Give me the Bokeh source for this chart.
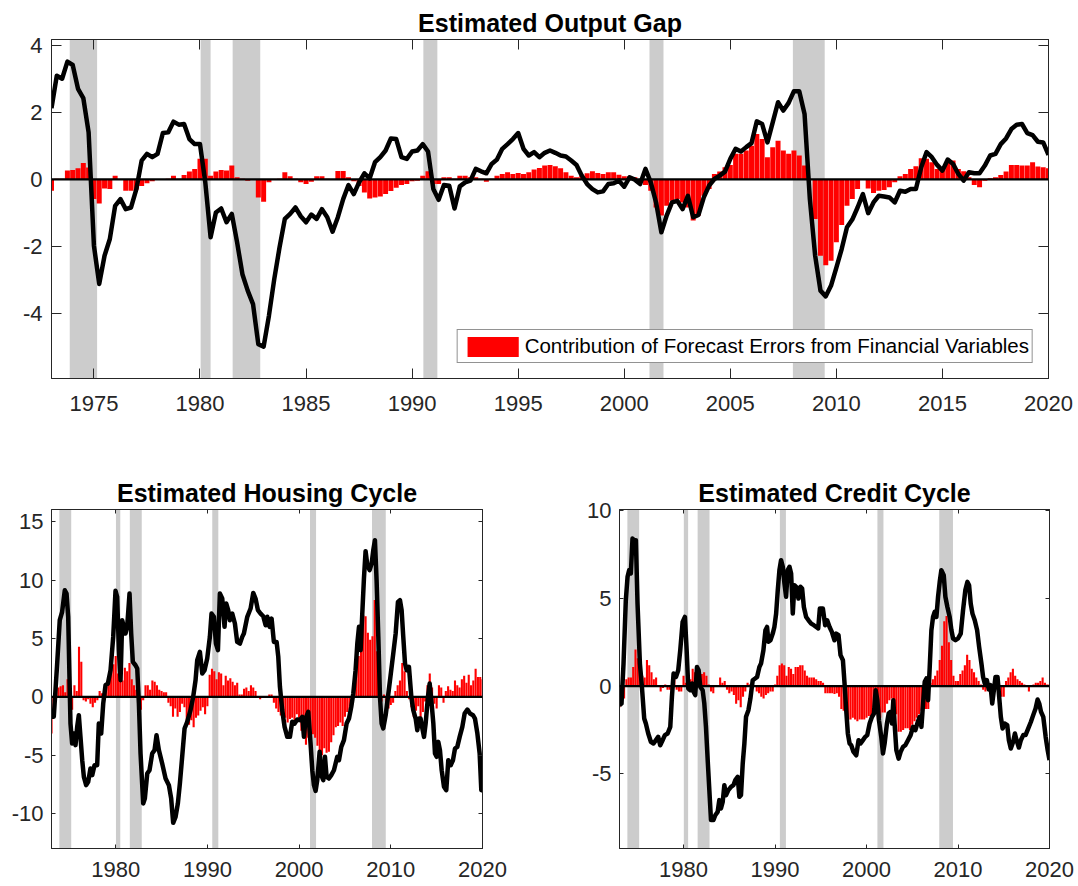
import numpy as np
from bokeh.plotting import figure
from bokeh.models import (Range1d, BoxAnnotation, Span, Legend, LegendItem,
                          LinearAxis, FixedTicker)
from bokeh.layouts import column, row
from bokeh.embed import file_html
from bokeh.resources import INLINE

FONT = "Liberation Sans"
TXT = "#262626"
RED = "#ff0000"
GRAY = "#cccccc"

# ---------------- data ----------------
recession_start = [1973.86, 1980.03, 1981.54, 1990.53, 2001.19, 2007.95]
recession_end = [1975.15, 1980.50, 1982.84, 1991.19, 2001.85, 2009.45]

# Output gap (quarterly from 1973Q1)
gap_line = [
    2.12, 3.09, 3.00, 3.51, 3.41, 2.70, 2.42, 1.40, -1.98, -3.12, -2.28, -1.78,
    -0.79, -0.59, -0.89, -0.84, -0.29, 0.56, 0.76, 0.66, 0.76, 1.38, 1.40, 1.72,
    1.63, 1.65, 1.20, 1.05, 1.05, -0.09, -1.73, -0.99, -0.87, -1.28, -1.03, -1.88,
    -2.83, -3.32, -3.72, -4.92, -4.99, -4.07, -2.98, -2.03, -1.18, -1.03, -0.84, -1.10,
    -1.28, -1.05, -1.18, -0.89, -1.13, -1.56, -1.13, -0.59, -0.17, -0.44, -0.09, 0.18,
    0.03, 0.51, 0.66, 0.86, 1.22, 1.20, 0.66, 0.61, 0.83, 0.86, 1.05, 0.83,
    -0.29, -0.61, -0.17, -0.19, -0.87, -0.21, -0.09, -0.04, 0.31, 0.24, 0.18, 0.46,
    0.59, 0.91, 1.05, 1.20, 1.38, 0.91, 0.71, 0.81, 0.66, 0.79, 0.86, 0.79,
    0.71, 0.68, 0.56, 0.43, 0.11, -0.14, -0.29, -0.39, -0.36, -0.14, -0.12, -0.04,
    -0.22, 0.06, -0.01, -0.14, 0.31, -0.09, -0.69, -1.58, -1.08, -0.69, -0.64, -0.89,
    -0.49, -1.13, -1.06, -0.54, -0.19, 0.01, 0.11, 0.23, 0.61, 0.91, 0.83, 0.96,
    1.08, 1.73, 1.65, 1.10, 1.70, 2.30, 2.05, 2.28, 2.63, 2.63, 1.95, -0.59,
    -2.28, -3.32, -3.49, -3.17, -2.63, -2.08, -1.43, -1.20, -0.84, -0.44, -1.01, -0.69,
    -0.49, -0.51, -0.54, -0.69, -0.34, -0.37, -0.29, -0.29, 0.36, 0.81, 0.66, 0.43,
    0.26, 0.59, 0.46, 0.16, -0.04, 0.21, 0.18, 0.18, 0.41, 0.71, 0.76, 1.05,
    1.22, 1.50, 1.63, 1.65, 1.38, 1.32, 1.12, 1.10, 0.73,
]
gap_bars = [
    -0.34, 0.02, 0.02, 0.26, 0.28, 0.33, 0.49, 0.35, -0.59, -0.72, -0.27, -0.29,
    0.11, 0.00, -0.34, -0.34, -0.30, -0.20, -0.12, -0.06, 0.00, 0.00, 0.02, 0.11,
    0.02, 0.13, 0.23, 0.31, 0.61, 0.61, 0.11, 0.23, 0.28, 0.26, 0.41, 0.06,
    0.02, -0.04, -0.02, -0.54, -0.67, -0.09, 0.00, 0.02, 0.21, 0.09, 0.02, -0.09,
    -0.14, -0.07, 0.09, 0.09, 0.02, 0.00, 0.25, 0.25, 0.06, -0.06, -0.20, -0.39,
    -0.57, -0.54, -0.51, -0.44, -0.35, -0.25, -0.17, -0.14, -0.06, -0.04, 0.11, 0.24,
    -0.14, -0.14, 0.06, 0.06, 0.02, 0.11, 0.11, 0.06, 0.06, 0.02, -0.07, 0.02,
    0.11, 0.16, 0.21, 0.16, 0.19, 0.16, 0.21, 0.29, 0.34, 0.41, 0.43, 0.39,
    0.33, 0.21, 0.11, 0.06, 0.11, 0.18, 0.24, 0.19, 0.16, 0.21, 0.21, 0.14,
    0.09, 0.09, 0.06, 0.00, -0.17, -0.34, -0.84, -1.08, -0.79, -0.64, -0.59, -0.69,
    -0.84, -1.23, -1.08, -0.49, -0.29, 0.16, 0.23, 0.36, 0.43, 0.76, 0.76, 0.86,
    1.00, 1.35, 1.20, 0.66, 0.96, 1.15, 0.86, 0.76, 0.86, 0.71, 0.41, 0.00,
    -1.18, -2.28, -2.56, -2.43, -1.88, -1.36, -0.79, -0.59, -0.29, 0.00, -0.27, -0.41,
    -0.34, -0.32, -0.24, -0.09, 0.09, 0.16, 0.31, 0.39, 0.63, 0.61, 0.51, 0.31,
    0.29, 0.49, 0.56, 0.31, 0.24, 0.06, -0.17, -0.24, -0.04, 0.03, 0.06, 0.13,
    0.23, 0.43, 0.43, 0.41, 0.41, 0.51, 0.38, 0.36, 0.33,
]

# Housing cycle
housing_bars = [
    -3.14, -0.4, 0.6, 0.8, 0.9, 1.0, 0.4, 1.5, 0.0, -1.1, 1.0, 0.5,
    4.3, 3.0, -0.3, -0.4, -0.2, -0.6, -0.9, -0.5, -0.3, 0.5, 0.3, 0.6,
    1.0, 1.2, 2.0, 2.8, 3.5, 2.0, 1.5, 1.4, 2.5, 2.2, 2.9, 1.5,
    1.0, 0.6, -0.3, -1.1, -0.3, 1.0, 1.0, 0.6, 1.4, 1.3, 1.0, 0.6,
    0.5, 0.4, 0.4, -0.5, -0.8, -1.7, -1.0, -1.7, -1.3, -0.6, -0.9, -2.3,
    -2.4, -2.0, -2.6, -1.8, -1.6, -1.2, -0.9, -1.5, -0.8, 1.9, 2.4, 2.2,
    1.5, 2.1, 2.0, 1.0, 1.8, 1.4, 1.6, 1.3, 1.0, 1.2, 0.2, 0.2,
    0.7, 0.8, 0.5, 1.0, 0.8, 0.5, -0.1, -0.2, 0.0, -0.1, 0.0, 0.2,
    0.2, -0.5, -1.0, -1.3, -1.6, -2.4, -1.8, -2.2, -1.9, -1.8, -2.0, -1.5,
    -2.0, -2.9, -3.0, -4.1, -3.5, -3.0, -3.2, -3.5, -4.2, -4.7, -5.0, -4.4,
    -4.8, -4.7, -3.9, -3.3, -2.6, -2.5, -2.2, -2.5, -1.7, -1.3, -1.1, -0.6,
    1.0, 3.4, 3.5, 5.0, 7.0, 6.9, 5.5, 4.9, 5.2, 8.3, 3.9, 0.5,
    -0.4, 0.2, -0.8, -1.0, -0.7, -0.5, 0.5, 1.0, 1.4, 2.9, 2.2, 0.5,
    -0.2, -0.9, -1.7, -1.2, -0.8, -1.8, -1.3, -0.4, 1.0, 2.0, 0.8, -0.6,
    -1.0, 1.0, 0.8, -0.5, 0.5, 0.9, 0.6, 0.5, 1.4, 1.0, 0.8, 1.5,
    1.8, 1.2, 1.9, 1.0, 1.4, 2.4, 1.7, 1.7, 1.5,
]
housing_x = [
    1973.00, 1973.25, 1973.62, 1973.90, 1974.16, 1974.45, 1974.64, 1974.82, 1974.96, 1975.07,
    1975.25, 1975.44, 1975.62, 1975.80, 1975.98, 1976.16, 1976.35, 1976.53, 1976.78, 1977.00,
    1977.25, 1977.44, 1977.69, 1977.98, 1978.16, 1978.42, 1978.64, 1978.89, 1979.15, 1979.44,
    1979.73, 1979.98, 1980.16, 1980.35, 1980.53, 1980.71, 1980.89, 1981.07, 1981.25, 1981.51,
    1981.69, 1981.87, 1982.16, 1982.35, 1982.53, 1982.71, 1983.00, 1983.18, 1983.44, 1983.69,
    1983.98, 1984.24, 1984.45, 1984.71, 1985.07, 1985.44, 1985.80, 1986.05, 1986.27, 1986.53,
    1986.78, 1987.00, 1987.25, 1987.51, 1987.80, 1988.16, 1988.45, 1988.71, 1988.89, 1989.18,
    1989.44, 1989.69, 1989.98, 1990.27, 1990.45, 1990.71, 1990.93, 1991.15, 1991.36, 1991.62,
    1991.87, 1992.05, 1992.27, 1992.45, 1992.71, 1993.00, 1993.25, 1993.55, 1993.80, 1993.98,
    1994.35, 1994.71, 1995.00, 1995.25, 1995.51, 1995.80, 1996.09, 1996.35, 1996.53, 1996.78,
    1997.00, 1997.25, 1997.55, 1997.73, 1997.91, 1998.16, 1998.42, 1998.71, 1999.00, 1999.25,
    1999.51, 1999.80, 2000.09, 2000.35, 2000.53, 2000.71, 2001.00, 2001.25, 2001.44, 2001.62,
    2001.80, 2001.98, 2002.24, 2002.42, 2002.64, 2002.82, 2003.00, 2003.25, 2003.51, 2003.80,
    2003.98, 2004.16, 2004.35, 2004.60, 2004.89, 2005.18, 2005.44, 2005.69, 2005.91, 2006.16,
    2006.35, 2006.53, 2006.71, 2006.89, 2007.07, 2007.25, 2007.44, 2007.69, 2007.91, 2008.09,
    2008.27, 2008.45, 2008.64, 2008.82, 2009.00, 2009.18, 2009.44, 2009.69, 2009.98, 2010.27,
    2010.53, 2010.78, 2011.00, 2011.18, 2011.36, 2011.55, 2011.73, 2011.98, 2012.24, 2012.45,
    2012.71, 2012.89, 2013.07, 2013.25, 2013.44, 2013.62, 2013.80, 2014.05, 2014.24, 2014.42,
    2014.64, 2014.82, 2015.00, 2015.18, 2015.36, 2015.55, 2015.80, 2016.05, 2016.27, 2016.53,
    2016.78, 2017.00, 2017.25, 2017.51, 2017.80, 2018.05, 2018.35, 2018.64, 2018.96, 2019.18,
    2019.44, 2019.69, 2019.87, 2020.00,
]
housing_y = [
    -1.71, -1.70, 2.86, 6.57, 7.29, 9.14, 8.86, 6.86, 1.71, -2.29,
    -4.00, -3.14, -4.14, -2.57, -1.57, -3.43, -5.43, -6.86, -7.57, -7.29,
    -6.14, -6.71, -5.86, -5.86, -2.29, -3.14, -0.57, 1.00, 1.14, 2.29,
    5.14, 9.09, 8.57, 4.00, 1.43, 6.57, 6.00, 5.43, 6.00, 8.86,
    5.43, 3.00, 2.71, 2.43, -0.57, -4.86, -9.14, -8.71, -6.57, -6.29,
    -4.86, -4.57, -3.29, -4.57, -5.71, -7.00, -7.57, -8.71, -10.80, -10.29,
    -9.14, -7.43, -5.14, -2.71, -2.14, -1.14, 0.00, 1.43, 3.14, 3.86,
    2.00, 2.29, 3.29, 5.14, 7.14, 6.86, 4.57, 4.00, 8.86, 8.43,
    6.00, 8.00, 7.43, 6.57, 7.14, 6.29, 4.71, 4.57, 5.14, 5.43,
    6.86, 7.57, 8.91, 8.43, 7.43, 7.14, 6.91, 6.14, 6.86, 6.00,
    6.71, 4.71, 4.71, 3.43, 0.86, -1.14, -2.57, -3.43, -3.43, -2.14,
    -2.29, -1.94, -2.00, -1.71, -3.43, -1.86, -1.29, -4.00, -6.29, -7.57,
    -8.06, -7.14, -4.71, -6.71, -7.14, -5.14, -6.86, -7.00, -6.71, -6.29,
    -5.71, -5.14, -5.43, -4.29, -3.71, -2.29, -1.86, -0.86, 0.29, 2.29,
    4.57, 6.00, 4.00, 7.14, 10.14, 12.49, 11.29, 10.86, 11.43, 12.57,
    13.43, 10.00, 5.14, 0.00, -2.29, -2.71, -1.57, 0.00, 1.86, 3.71,
    5.43, 8.14, 8.29, 7.43, 5.14, 2.86, 2.29, 2.57, 0.00, -1.14,
    -1.86, -2.86, -1.86, -1.86, -2.71, -3.43, -2.29, 0.00, 1.14, -0.29,
    -2.29, -4.86, -5.14, -3.86, -4.57, -6.29, -7.71, -8.00, -5.43, -5.86,
    -5.43, -4.43, -4.29, -3.43, -2.57, -1.43, -1.09, -1.43, -1.57, -1.86,
    -3.14, -4.86, -8.00, -8.00,
]

# Credit cycle
credit_bars = [
    -1.2, -0.7, -0.7, 0.4, 0.5, 0.5, 1.1, 2.1, 1.6, 1.0, 0.6, 0.5,
    1.5, 1.2, 0.8, 0.4, 0.5, 0.0, -0.3, -0.1, 0.1, -0.2, -0.2, -0.3,
    0.7, -0.2, -0.3, -0.3, 0.6, 0.2, 0.1, 0.4, 1.0, 0.8, 1.1, 0.8,
    0.7, 0.8, 0.6, 0.1, -0.3, -0.4, 0.0, 0.0, 0.5, 0.2, 0.3, -0.2,
    -0.4, -0.3, -0.5, -1.0, -0.8, -1.2, -0.6, -0.3, 0.2, 0.1, -0.1, 0.0,
    -0.3, -0.4, -0.6, -0.7, -0.5, -0.4, -0.3, -0.3, 0.1, 0.6, 1.2, 1.3,
    1.2, 0.6, 1.1, 1.0, 0.7, 1.1, 1.1, 1.2, 1.2, 0.9, 0.6, 0.5,
    0.5, 0.5, 0.4, 0.3, 0.3, 0.2, -0.4, -0.4, -0.4, -0.4, -0.45, -0.4,
    -0.6, -1.3, -1.4, -1.5, -1.9, -1.9, -1.8, -1.9, -2.0, -1.9, -1.9, -1.9,
    -1.8, -1.7, -1.8, -1.2, -1.2, -1.9, -1.8, -1.5, -1.5, -1.0, -0.8, -0.7,
    -1.2, -1.6, -2.6, -2.6, -2.5, -2.4, -2.4, -2.5, -2.2, -2.0, -1.8, -1.6,
    -1.4, -1.3, -1.3, -1.3, 0.2, 0.4, 0.6, 0.9, 1.5, 2.3, 3.7, 4.0,
    2.5, 1.5, 0.6, 0.3, 0.3, 0.7, 0.9, 1.2, 1.8, 1.5, 1.0, 0.8,
    0.5, 0.3, 0.1, -0.2, -0.3, -0.1, 0.1, 0.0, 0.1, 0.1, 0.0, -0.6,
    -0.6, 0.3, 0.5, 0.8, 1.0, 0.6, 0.4, 0.3, 0.2, 0.1, 0.0, -0.3,
    0.0, 0.1, 0.2, 0.2, 0.3, 0.5, 0.2, 0.1, 0.1,
]
credit_x = [
    1973.00, 1973.22, 1973.44, 1973.69, 1973.88, 1974.06, 1974.24, 1974.42, 1974.61, 1974.79,
    1974.97, 1975.23, 1975.45, 1975.70, 1975.88, 1976.14, 1976.43, 1976.72, 1976.98, 1977.23,
    1977.45, 1977.71, 1977.96, 1978.26, 1978.55, 1978.73, 1978.91, 1979.17, 1979.42, 1979.64,
    1979.90, 1980.15, 1980.34, 1980.52, 1980.74, 1980.92, 1981.10, 1981.28, 1981.47, 1981.65,
    1981.83, 1982.09, 1982.27, 1982.45, 1982.64, 1982.82, 1983.00, 1983.26, 1983.47, 1983.73,
    1983.91, 1984.09, 1984.28, 1984.46, 1984.64, 1984.90, 1985.19, 1985.45, 1985.66, 1985.92,
    1986.10, 1986.28, 1986.47, 1986.65, 1986.83, 1987.09, 1987.31, 1987.56, 1987.82, 1988.04,
    1988.29, 1988.47, 1988.73, 1988.95, 1989.13, 1989.28, 1989.50, 1989.75, 1989.93, 1990.12,
    1990.30, 1990.48, 1990.66, 1990.85, 1991.03, 1991.21, 1991.39, 1991.58, 1991.76, 1991.94,
    1992.12, 1992.31, 1992.56, 1992.78, 1992.96, 1993.15, 1993.40, 1993.66, 1993.95, 1994.24,
    1994.50, 1994.72, 1994.90, 1995.23, 1995.48, 1995.70, 1995.96, 1996.21, 1996.50, 1996.68,
    1996.94, 1997.16, 1997.42, 1997.60, 1997.78, 1997.96, 1998.15, 1998.33, 1998.58, 1998.88,
    1999.13, 1999.35, 1999.61, 1999.86, 2000.08, 2000.34, 2000.60, 2000.81, 2001.00, 2001.18,
    2001.36, 2001.61, 2001.80, 2001.98, 2002.23, 2002.42, 2002.64, 2002.78, 2002.93, 2003.07,
    2003.26, 2003.51, 2003.73, 2003.99, 2004.24, 2004.53, 2004.82, 2005.08, 2005.34, 2005.55,
    2005.81, 2006.00, 2006.18, 2006.36, 2006.55, 2006.73, 2006.91, 2007.09, 2007.27, 2007.45,
    2007.64, 2007.82, 2008.00, 2008.18, 2008.44, 2008.62, 2008.84, 2009.09, 2009.28, 2009.46,
    2009.72, 2010.00, 2010.30, 2010.55, 2010.80, 2011.03, 2011.21, 2011.39, 2011.58, 2011.83,
    2012.09, 2012.31, 2012.56, 2012.74, 2012.93, 2013.15, 2013.37, 2013.55, 2013.74, 2013.92,
    2014.10, 2014.32, 2014.50, 2014.68, 2014.87, 2015.12, 2015.38, 2015.56, 2015.77, 2016.03,
    2016.22, 2016.40, 2016.65, 2016.87, 2017.13, 2017.38, 2017.68, 2017.97, 2018.22, 2018.48,
    2018.70, 2018.88, 2019.07, 2019.32, 2019.58, 2019.80, 2020.00,
]
credit_y = [
    -1.08, -0.99, 1.29, 4.90, 6.24, 6.62, 6.43, 8.42, 8.33, 8.33,
    4.71, 1.29, -0.04, -1.84, -2.13, -2.70, -3.17, -3.27, -3.08, -2.89,
    -3.37, -3.08, -2.79, -2.70, -2.32, -0.61, 0.72, 0.53, 0.91, 2.05,
    3.67, 3.95, 2.05, -0.13, -0.23, 0.15, -0.32, -0.51, 1.10, 0.91,
    -0.04, -0.23, -0.99, -2.32, -4.22, -5.93, -7.64, -7.64, -7.36, -7.17,
    -6.50, -6.98, -6.60, -5.65, -6.22, -5.93, -5.74, -5.65, -5.36, -5.17,
    -6.31, -6.22, -4.41, -3.27, -1.75, -1.37, -0.70, 0.34, 0.44, 0.53,
    1.10, 1.29, 2.05, 3.19, 3.38, 2.53, 2.62, 3.00, 3.38, 4.14,
    5.48, 6.62, 7.19, 6.81, 5.86, 5.10, 6.62, 6.81, 6.43, 4.14,
    5.76, 5.67, 5.00, 5.67, 5.57, 4.52, 3.95, 3.76, 3.57, 3.48,
    3.38, 3.30, 4.43, 4.43, 3.48, 3.76, 3.38, 3.10, 2.62, 3.00,
    2.91, 1.77, 1.48, 0.15, -1.37, -2.70, -3.27, -3.37, -3.75, -3.94,
    -3.08, -3.27, -3.08, -2.89, -2.79, -2.13, -1.75, -1.56, -0.23, -0.80,
    -1.94, -2.89, -3.84, -3.27, -2.13, -1.56, -1.46, -2.13, -0.80, -2.13,
    -3.65, -4.13, -3.75, -3.46, -3.37, -3.08, -2.79, -2.32, -2.51, -2.13,
    -1.75, -2.32, -0.99, 0.25, 0.44, -0.80, 1.10, 3.19, 3.95, 4.24,
    3.95, 5.10, 5.95, 6.62, 6.33, 5.10, 4.52, 3.95, 3.19, 2.72,
    2.62, 2.72, 3.00, 4.33, 5.48, 5.95, 5.76, 4.71, 4.14, 3.76,
    3.19, 2.24, 1.29, 0.53, 0.15, 0.34, -0.19, 0.06, -0.99, -0.23,
    0.53, 0.53, -0.61, -1.75, -2.41, -2.13, -2.22, -3.08, -3.56, -3.17,
    -2.70, -3.08, -3.50, -3.08, -2.79, -2.79, -2.41, -2.03, -1.65, -1.27,
    -0.76, -0.99, -1.46, -1.75, -2.89, -3.65, -4.22,
]

top_yticks = [-4, -2, 0, 2, 4]
top_xticks = [1975, 1980, 1985, 1990, 1995, 2000, 2005, 2010, 2015, 2020]
housing_yticks = [-10, -5, 0, 5, 10, 15]
credit_yticks = [-5, 0, 5, 10]
bottom_xticks = [1980, 1990, 2000, 2010, 2020]
legend_text = "Contribution of Forecast Errors from Financial Variables"


def style_axis(ax, ticks, tick_len, labels, standoff):
    ax.ticker = FixedTicker(ticks=ticks)
    ax.major_tick_in = tick_len
    ax.major_tick_out = 0
    ax.minor_tick_line_color = None
    ax.axis_line_color = TXT
    ax.axis_line_width = 1
    ax.major_tick_line_color = TXT
    ax.major_tick_line_width = 1
    ax.major_label_text_font = FONT
    if labels:
        ax.major_label_text_color = TXT
        ax.major_label_text_font_size = "22px"
        ax.major_label_standoff = standoff
        # plain hyphen-minus, as in the original
        ax.major_label_overrides = {t: str(t) for t in ticks}
    else:
        # mirror axis (box): ticks only, labels not drawn
        ax.major_label_text_color = None
        ax.major_label_text_font_size = "1px"
        ax.major_label_standoff = 0


def panel(title, bars, lx, ly, yr, yticks, xticks, width, height,
          bl, br, bt, bb, tick_len, xstand, ystand, bar_w, with_legend=False):
    p = figure(width=width, height=height, x_range=Range1d(1973, 2020),
               y_range=Range1d(*yr), output_backend="svg", toolbar_location=None,
               min_border_left=bl, min_border_right=br, min_border_top=bt,
               min_border_bottom=bb)
    p.title.text = title
    p.title.text_font = FONT
    p.title.text_font_size = "25px"
    p.title.text_font_style = "bold"
    p.title.align = "center"
    p.title.text_color = "black"
    p.title.standoff = 6
    p.grid.visible = False
    p.outline_line_color = TXT
    p.outline_line_width = 1
    p.background_fill_color = "white"
    p.border_fill_color = "white"

    for s, e in zip(recession_start, recession_end):
        p.add_layout(BoxAnnotation(left=s, right=e, fill_color=GRAY, fill_alpha=1.0,
                                   line_alpha=0, level="underlay"))
    dates = 1973.0 + 0.25 * np.arange(len(bars))
    r = p.vbar(x=dates, top=bars, bottom=0, width=bar_w, fill_color=RED, line_color=None)
    p.add_layout(Span(location=0, dimension="width", line_color="black", line_width=2.2))
    n = min(len(lx), len(ly))
    p.line(list(lx[:n]), list(ly[:n]), line_color="black", line_width=4.5, line_join="round")

    style_axis(p.xaxis[0], xticks, tick_len, True, xstand)
    style_axis(p.yaxis[0], yticks, tick_len, True, ystand)
    ra = LinearAxis()
    ta = LinearAxis()
    p.add_layout(ra, "right")
    p.add_layout(ta, "above")
    style_axis(ra, yticks, tick_len, False, 0)
    style_axis(ta, xticks, tick_len, False, 0)

    if with_legend:
        leg = Legend(items=[LegendItem(label=legend_text, renderers=[r])],
                     location="bottom_right", margin=15, padding=3, spacing=0,
                     glyph_width=64, glyph_height=25, label_standoff=0,
                     label_height=26,
                     label_text_font=FONT, label_text_font_size="20.5px",
                     label_text_color="black", border_line_color=TXT,
                     border_line_width=1, background_fill_color="white",
                     background_fill_alpha=1.0)
        p.add_layout(leg)
    return p


top = panel("Estimated Output Gap", gap_bars, 1973.0 + 0.25 * np.arange(len(gap_line)),
            gap_line, (-5.94, 4.17), top_yticks, top_xticks, 1076, 421,
            51, 28, 39, 43, 10, 17, 9, 0.235, with_legend=True)
bl = panel("Estimated Housing Cycle", housing_bars, housing_x, housing_y, (-13.0, 16.06),
           housing_yticks, bottom_xticks, 531, 465, 51, 49, 88, 38, 4, 13, 8, 0.23)
br = panel("Estimated Credit Cycle", credit_bars, credit_x, credit_y, (-9.26, 10.08),
           credit_yticks, bottom_xticks, 546, 465, 88, 28, 88, 38, 4, 13, 8, 0.23)

layout = column(top, row(bl, br))
open("out.html", "w").write(file_html(layout, INLINE))
